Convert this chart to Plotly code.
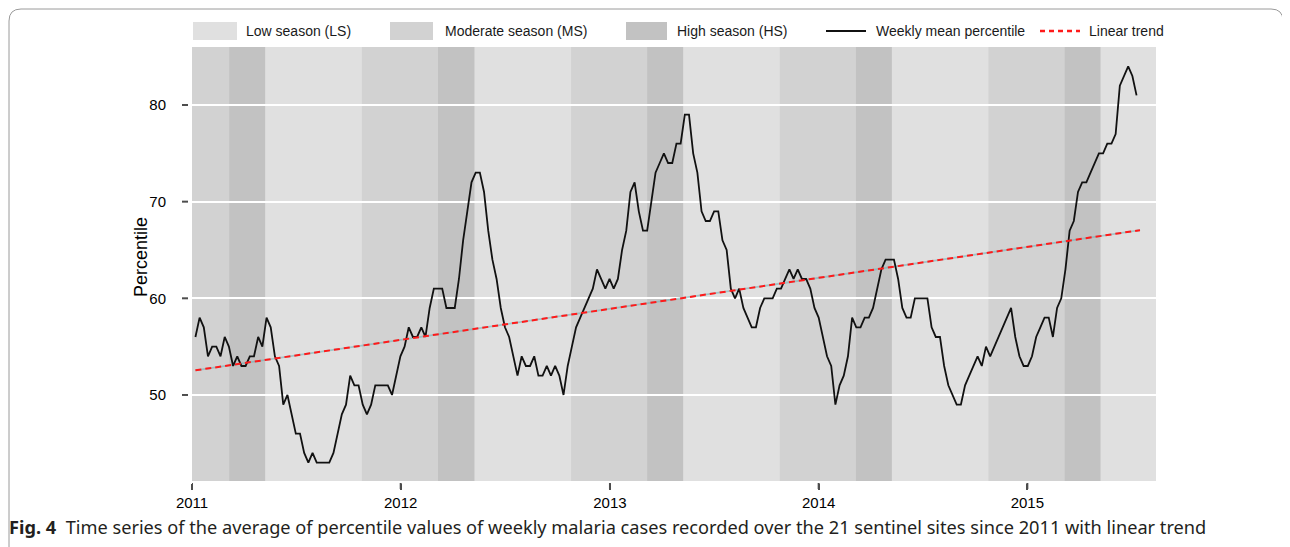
import pandas as pd
import plotly.graph_objects as go

# ---------------- data ----------------
weekly_percentile = [
    56, 58, 57, 54, 55, 55, 54, 56, 55, 53, 54, 53, 53, 54, 54, 56, 55, 58, 57, 54,
    53, 49, 50, 48, 46, 46, 44, 43, 44, 43, 43, 43, 43, 44, 46, 48, 49, 52, 51, 51,
    49, 48, 49, 51, 51, 51, 51, 50, 52, 54, 55, 57, 56, 56, 57, 56, 59, 61, 61, 61,
    59, 59, 59, 62, 66, 69, 72, 73, 73, 71, 67, 64, 62, 59, 57, 56, 54, 52, 54, 53,
    53, 54, 52, 52, 53, 52, 53, 52, 50, 53, 55, 57, 58, 59, 60, 61, 63, 62, 61, 62,
    61, 62, 65, 67, 71, 72, 69, 67, 67, 70, 73, 74, 75, 74, 74, 76, 76, 79, 79, 75,
    73, 69, 68, 68, 69, 69, 66, 65, 61, 60, 61, 59, 58, 57, 57, 59, 60, 60, 60, 61,
    61, 62, 63, 62, 63, 62, 62, 61, 59, 58, 56, 54, 53, 49, 51, 52, 54, 58, 57, 57,
    58, 58, 59, 61, 63, 64, 64, 64, 62, 59, 58, 58, 60, 60, 60, 60, 57, 56, 56, 53,
    51, 50, 49, 49, 51, 52, 53, 54, 53, 55, 54, 55, 56, 57, 58, 59, 56, 54, 53, 53,
    54, 56, 57, 58, 58, 56, 59, 60, 63, 67, 68, 71, 72, 72, 73, 74, 75, 75, 76, 76,
    77, 82, 83, 84, 83, 81,
]
first_week = "2011-01-07"
last_week = "2015-07-11"

trend_dates = ["2011-01-07", "2015-07-17"]
trend_values = [52.55, 67.05]

ms_periods = [("2011-01-01", "2011-03-07"), ("2011-10-25", "2012-03-06"),
              ("2012-10-25", "2013-03-07"), ("2013-10-25", "2014-03-07"),
              ("2014-10-25", "2015-03-07")]
hs_periods = [("2011-03-07", "2011-05-09"), ("2012-03-06", "2012-05-09"),
              ("2013-03-07", "2013-05-09"), ("2014-03-07", "2014-05-09"),
              ("2015-03-07", "2015-05-09")]

year_ticks = ["2011-01-01", "2012-01-01", "2013-01-01", "2014-01-01", "2015-01-01"]
year_labels = ["2011", "2012", "2013", "2014", "2015"]
y_ticks = [50, 60, 70, 80]

y_title = "Percentile"
legend_labels = ["Low season (LS)", "Moderate season (MS)", "High season (HS)",
                 "Weekly mean percentile", "Linear trend"]
caption_bold = "Fig. 4"
caption_text = ("Time series of the average of percentile values of weekly malaria cases "
                "recorded over the 21 sentinel sites since 2011 with linear trend")

# ---------------- styles ----------------
LS_COLOR = "#e0e0e0"
MS_COLOR = "#d2d2d2"
HS_COLOR = "#c2c2c2"
TICK_COLOR = "#4d4d4d"
OFF = 8                       # default body margin of the html page
W, H = 1290 - OFF, 547 - OFF
ML, MR, MT, MB = 188 - OFF, 134, 47 - OFF, 64
PW, PH = W - ML - MR, H - MT - MB
X_RANGE = ["2011-01-01", "2015-08-14"]
Y_RANGE = [41.1, 86.0]


def px(x):
    """screen pixel x -> paper coordinate"""
    return (x - OFF - ML) / PW


def py(y):
    """screen pixel y -> paper coordinate"""
    return (H - MB - (y - OFF)) / PH


dates = pd.date_range(first_week, last_week, periods=len(weekly_percentile))

fig = go.Figure()
fig.add_trace(go.Scatter(x=trend_dates, y=trend_values, mode="lines",
                         line=dict(color="rgba(110,175,180,0.55)", width=1.8),
                         hoverinfo="skip"))
fig.add_trace(go.Scatter(x=dates, y=weekly_percentile, mode="lines",
                         line=dict(color="#111111", width=1.8),
                         name=legend_labels[3]))
fig.add_trace(go.Scatter(x=trend_dates, y=trend_values, mode="lines",
                         line=dict(color="#ff1a1a", width=2, dash="6px,4px"),
                         name=legend_labels[4]))

shapes = []
for (a, b) in ms_periods:
    shapes.append(dict(type="rect", xref="x", yref="y domain", x0=a, x1=b, y0=0, y1=1,
                       fillcolor=MS_COLOR, line=dict(width=0), layer="below"))
for (a, b) in hs_periods:
    shapes.append(dict(type="rect", xref="x", yref="y domain", x0=a, x1=b, y0=0, y1=1,
                       fillcolor=HS_COLOR, line=dict(width=0), layer="below"))

# tick marks, set slightly apart from the plotting panel
for t in year_ticks:
    shapes.append(dict(type="line", xref="x", yref="paper", x0=t, x1=t,
                       y0=py(483), y1=py(489), line=dict(color=TICK_COLOR, width=2)))
for v in y_ticks:
    shapes.append(dict(type="line", xref="paper", yref="y", x0=px(182), x1=px(188),
                       y0=v, y1=v, line=dict(color=TICK_COLOR, width=2)))

# legend (drawn manually, top row)
sw_y0, sw_y1, leg_y = 22, 40, 31
for (x0, x1, col) in [(193, 237, LS_COLOR), (390, 433, MS_COLOR), (626, 667, HS_COLOR)]:
    shapes.append(dict(type="rect", xref="paper", yref="paper", x0=px(x0), x1=px(x1),
                       y0=py(sw_y1), y1=py(sw_y0), fillcolor=col, line=dict(width=0)))
shapes.append(dict(type="line", xref="paper", yref="paper", x0=px(826), x1=px(866),
                   y0=py(leg_y), y1=py(leg_y), line=dict(color="#111111", width=2)))
shapes.append(dict(type="line", xref="paper", yref="paper", x0=px(1040), x1=px(1080),
                   y0=py(leg_y), y1=py(leg_y),
                   line=dict(color="#ff1a1a", width=2.5, dash="5px,4px")))

# rounded frame
fx0, fx1, fy0, fy1, r = 9, 1283, 9, 562, 12
path = (f"M {px(fx0+r)},{py(fy0)} L {px(fx1-r)},{py(fy0)} "
        f"Q {px(fx1)},{py(fy0)} {px(fx1)},{py(fy0+r)} "
        f"L {px(fx1)},{py(fy1-r)} Q {px(fx1)},{py(fy1)} {px(fx1-r)},{py(fy1)} "
        f"L {px(fx0+r)},{py(fy1)} Q {px(fx0)},{py(fy1)} {px(fx0)},{py(fy1-r)} "
        f"L {px(fx0)},{py(fy0+r)} Q {px(fx0)},{py(fy0)} {px(fx0+r)},{py(fy0)} Z")
shapes.append(dict(type="path", xref="paper", yref="paper", path=path,
                   line=dict(color="#9a9a9a", width=1)))

annotations = []
for (x, lab) in zip([244, 443, 675, 874, 1087], legend_labels):
    annotations.append(dict(xref="paper", yref="paper", x=px(x), y=py(leg_y),
                            xanchor="left", yanchor="middle", text=lab, showarrow=False,
                            font=dict(family="Liberation Sans, Arial", size=14,
                                      color="#1a1a1a")))
annotations.append(dict(xref="paper", yref="paper", x=px(141), y=py(257),
                        xanchor="center", yanchor="middle", text=y_title, textangle=-90,
                        showarrow=False,
                        font=dict(family="Liberation Sans, Arial", size=18, color="#000000")))
annotations.append(dict(xref="paper", yref="paper", x=px(7), y=py(527),
                        xanchor="left", yanchor="middle", showarrow=False,
                        text=f"<b>{caption_bold}</b>  {caption_text}",
                        font=dict(family="Noto Sans", size=18.2, color="#231f20")))

fig.update_layout(
    width=W, height=H, margin=dict(l=ML, r=MR, t=MT, b=MB),
    paper_bgcolor="white", plot_bgcolor=LS_COLOR, showlegend=False,
    font=dict(family="Liberation Sans, Arial", color="#000000"),
    shapes=shapes, annotations=annotations,
    xaxis=dict(type="date", domain=[4 / PW, 1], anchor="free", position=0,
               range=X_RANGE, tickvals=year_ticks, ticktext=year_labels,
               showgrid=False, zeroline=False, showline=False,
               ticks="outside", ticklen=6, tickwidth=2, tickcolor=TICK_COLOR,
               tickfont=dict(size=15, color="#000000")),
    yaxis=dict(domain=[2 / PH, 1], anchor="free", position=0,
               range=Y_RANGE, tickvals=y_ticks,
               showgrid=True, gridcolor="white", gridwidth=2,
               zeroline=False, showline=False,
               ticks="outside", ticklen=19, tickwidth=1.5, tickcolor="rgba(0,0,0,0)",
               tickfont=dict(size=15, color="#000000")),
)

fig.write_html("out.html", config={"displayModeBar": False})
